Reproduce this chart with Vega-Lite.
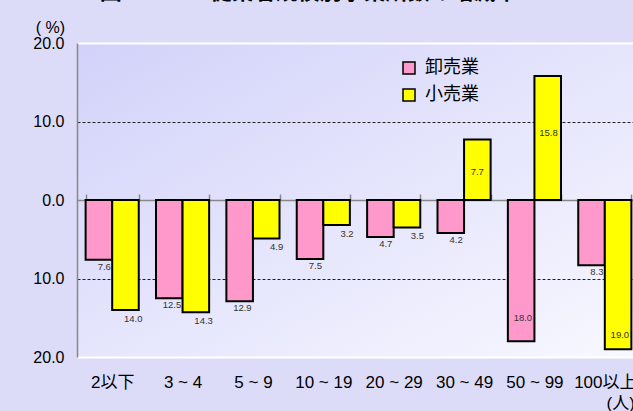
{
  "$schema": "https://vega.github.io/schema/vega-lite/v6.json",
  "autosize": {"type": "none"},
  "padding": {"left": 77, "top": 43, "right": -7, "bottom": 54},
  "width": 563,
  "height": 314,
  "background": "#dcdcf8",
  "title": {
    "text": "図２　　　従業者規模別事業所数の増減率",
    "font": "Noto Sans CJK JP",
    "fontSize": 22,
    "fontWeight": "bold",
    "color": "#000000",
    "anchor": "start",
    "frame": "bounds",
    "dx": 67,
    "offset": 15
  },
  "config": {
    "view": {
      "stroke": null,
      "fill": {
        "gradient": "linear",
        "x1": 0, "y1": 0, "x2": 1, "y2": 1,
        "stops": [
          {"offset": 0, "color": "#d2d2fa"},
          {"offset": 1, "color": "#f8f8ff"}
        ]
      }
    },
    "axis": {
      "labelFont": "Liberation Sans, Noto Sans CJK JP",
      "titleFont": "Liberation Sans, Noto Sans CJK JP",
      "labelColor": "#000000",
      "titleColor": "#000000"
    }
  },
  "data": {
    "values": [
      {"size": "2以下", "type": "卸売業", "v": -7.6},
      {"size": "2以下", "type": "小売業", "v": -14.0},
      {"size": "3 ~ 4", "type": "卸売業", "v": -12.5},
      {"size": "3 ~ 4", "type": "小売業", "v": -14.3},
      {"size": "5 ~ 9", "type": "卸売業", "v": -12.9},
      {"size": "5 ~ 9", "type": "小売業", "v": -4.9},
      {"size": "10 ~ 19", "type": "卸売業", "v": -7.5},
      {"size": "10 ~ 19", "type": "小売業", "v": -3.2},
      {"size": "20 ~ 29", "type": "卸売業", "v": -4.7},
      {"size": "20 ~ 29", "type": "小売業", "v": -3.5},
      {"size": "30 ~ 49", "type": "卸売業", "v": -4.2},
      {"size": "30 ~ 49", "type": "小売業", "v": 7.7},
      {"size": "50 ~ 99", "type": "卸売業", "v": -18.0},
      {"size": "50 ~ 99", "type": "小売業", "v": 15.8},
      {"size": "100以上", "type": "卸売業", "v": -8.3},
      {"size": "100以上", "type": "小売業", "v": -19.0}
    ]
  },
  "layer": [
    {
      "mark": {"type": "bar", "stroke": "#000000", "strokeWidth": 2},
      "encoding": {
        "x": {
          "field": "size",
          "type": "nominal",
          "sort": ["2以下", "3 ~ 4", "5 ~ 9", "10 ~ 19", "20 ~ 29", "30 ~ 49", "50 ~ 99", "100以上"],
          "scale": {"paddingInner": 0.245, "paddingOuter": 0.1225},
          "axis": {
            "orient": "top",
            "offset": -157,
            "title": "(人)",
            "titleX": 529,
            "titleY": 203,
            "titleAlign": "left",
            "titleBaseline": "middle",
            "titleAngle": 0,
            "titleFontSize": 17,
            "titleFontWeight": "normal",
            "domainColor": "#888888",
            "domainWidth": 1.5,
            "tickColor": "#888888",
            "tickWidth": 1.5,
            "tickSize": 6,
            "tickBand": "extent",
            "labelAngle": 0,
            "labelFontSize": 17,
            "labelBaseline": "middle",
            "labelPadding": -188
          }
        },
        "xOffset": {
          "field": "type",
          "type": "nominal",
          "sort": ["卸売業", "小売業"],
          "scale": {"paddingInner": 0, "paddingOuter": 0}
        },
        "y": {
          "field": "v",
          "type": "quantitative",
          "scale": {"domain": [-20, 20], "nice": false},
          "axis": {
            "values": [-20, -10, 0, 10, 20],
            "labelExpr": "format(abs(datum.value), '.1f')",
            "labelFontSize": 16,
            "labelPadding": 13,
            "ticks": false,
            "domainColor": "#888888",
            "domainWidth": 1.5,
            "title": "( %)",
            "titleAngle": 0,
            "titleX": -27,
            "titleY": -16,
            "titleAlign": "center",
            "titleBaseline": "middle",
            "titleFontSize": 16,
            "titleFontWeight": "normal",
            "grid": true,
            "gridColor": {"condition": {"test": "abs(datum.value) == 20", "value": "#ffffff"}, "value": "#222222"},
            "gridOpacity": {"condition": {"test": "datum.value == 0", "value": 0}, "value": 1},
            "gridDash": {"condition": {"test": "abs(datum.value) == 10", "value": [3, 2]}, "value": []},
            "gridWidth": {"condition": {"test": "abs(datum.value) == 20", "value": 2}, "value": 1}
          }
        },
        "color": {
          "field": "type",
          "type": "nominal",
          "scale": {"domain": ["卸売業", "小売業"], "range": ["#ff99cc", "#ffff00"]},
          "legend": {
            "orient": "none",
            "legendX": 323,
            "legendY": 16,
            "title": null,
            "padding": 0,
            "symbolType": "square",
            "symbolSize": 144,
            "symbolStrokeColor": "#000000",
            "symbolStrokeWidth": 1.5,
            "symbolOpacity": 1,
            "labelFont": "Noto Sans CJK JP",
            "labelFontSize": 18,
            "labelColor": "#000000",
            "labelOffset": 7,
            "rowPadding": 9
          }
        }
      }
    },
    {
      "mark": {
        "type": "text",
        "font": "Liberation Sans",
        "fontSize": 9.5,
        "color": "#333333",
        "baseline": "middle",
        "align": "right",
        "text": {"expr": "format(abs(datum.v), '.1f')"},
        "dx": {"expr": "datum.v > 0 ? (datum.v < 10 ? 6.5 : 10) : (datum.v <= -15 ? 11 : (datum.type == '卸売業' ? 12 : 17))"},
        "dy": {"expr": "datum.v > 0 ? (datum.v < 10 ? 32 : 57) : (datum.v <= -15 ? (datum.type == '卸売業' ? -23 : -14) : (datum.type == '卸売業' ? 7 : 9))"}
      },
      "encoding": {
        "x": {
          "field": "size",
          "type": "nominal",
          "sort": ["2以下", "3 ~ 4", "5 ~ 9", "10 ~ 19", "20 ~ 29", "30 ~ 49", "50 ~ 99", "100以上"]
        },
        "xOffset": {"field": "type", "type": "nominal", "sort": ["卸売業", "小売業"]},
        "y": {"field": "v", "type": "quantitative"}
      }
    }
  ]
}
